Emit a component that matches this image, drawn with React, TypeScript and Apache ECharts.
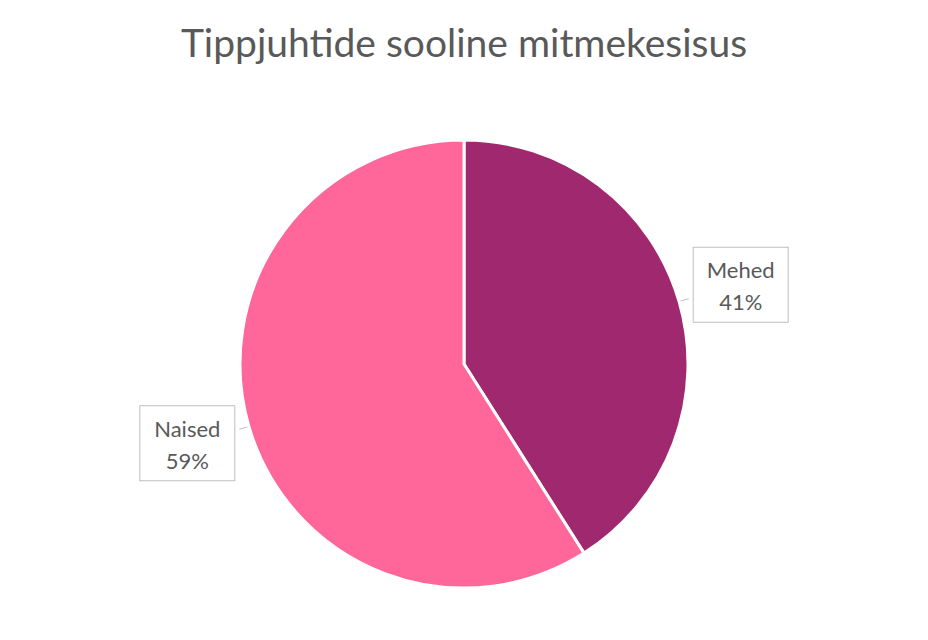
import React, { useEffect, useRef } from 'react';
import * as echarts from 'echarts';

const titleText = 'Tippjuhtide sooline mitmekesisus';
const categories = ['Mehed', 'Naised'];
const shares = [41, 59];
const sliceColors = ['#A0286F', '#FF6699'];

const App: React.FC = () => {
  const chartRef = useRef<HTMLDivElement>(null);

  useEffect(() => {
    if (!chartRef.current) return;
    document.body.style.margin = '0';
    const chart = echarts.init(chartRef.current, null, { renderer: 'svg' });

    const txt = {
      fontFamily: 'Lato',
      fontSize: 22,
      lineHeight: 32,
      color: '#595959',
      width: 74,
      align: 'center'
    };

    const option = {
      animation: false,
      backgroundColor: '#ffffff',
      title: {
        text: titleText,
        left: 'center',
        top: 17,
        textStyle: {
          fontFamily: 'Lato',
          fontSize: 39,
          fontWeight: 'normal',
          color: '#595959'
        }
      },
      series: [
        {
          type: 'pie',
          center: [464, 364],
          radius: 224,
          startAngle: 90,
          clockwise: true,
          data: categories.map((name, i) => ({
            name,
            value: shares[i],
            itemStyle: { color: sliceColors[i] }
          })),
          itemStyle: { borderColor: '#ffffff', borderWidth: 3 },
          label: {
            show: true,
            position: 'outside',
            formatter: '{n|{b}}\n{n|{d}%}',
            rich: { n: txt },
            backgroundColor: '#ffffff',
            borderColor: '#BFBFBF',
            borderWidth: 1,
            padding: [6, 10, 4, 10]
          },
          labelLine: {
            show: true,
            length: 10,
            length2: 0,
            lineStyle: { color: '#BFBFBF', width: 1 }
          },
          labelLayout: (params: any) => ({
            dy: params.dataIndex === 0 ? -14 : 14
          })
        }
      ]
    };

    chart.setOption(option);
    const handleResize = () => chart.resize();
    window.addEventListener('resize', handleResize);
    return () => {
      window.removeEventListener('resize', handleResize);
      chart.dispose();
    };
  }, []);

  return <div ref={chartRef} style={{ width: '928px', height: '640px' }} />;
};

export default App;
